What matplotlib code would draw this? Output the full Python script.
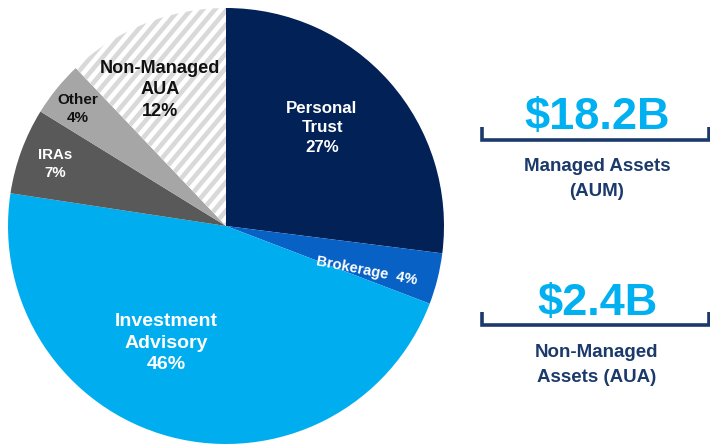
import matplotlib
matplotlib.use("Agg")
import matplotlib.pyplot as plt
import numpy as np

plt.rcParams['font.family'] = ['Liberation Sans', 'DejaVu Sans']

categories = ["Personal Trust", "Brokerage", "Investment Advisory", "IRAs", "Other", "Non-Managed AUA"]
values = [27.0, 3.8, 46.6, 6.4, 4.1, 12.1]
labels = ["Personal\nTrust\n27%", "Brokerage  4%", "Investment\nAdvisory\n46%", "IRAs\n7%", "Other\n4%", "Non-Managed\nAUA\n12%"]
colors = ["#022157", "#0862c6", "#00aeef", "#595959", "#a6a6a6", "#ffffff"]
summary_values = ["$18.2B", "$2.4B"]
summary_labels = ["Managed Assets\n(AUM)", "Non-Managed\nAssets (AUA)"]

W, H = 710, 445
fig = plt.figure(figsize=(W / 100, H / 100), dpi=100)

# pie axes
cx, cy, r = 226, 226, 218
ax = fig.add_axes([(cx - r) / W, (H - cy - r) / H, 2 * r / W, 2 * r / H])
wedges, _ = ax.pie(values, colors=colors, startangle=90, counterclock=False,
                   radius=1, wedgeprops=dict(linewidth=0))
ax.set_xlim(-1, 1)
ax.set_ylim(-1, 1)
ax.set_aspect('equal')
ax.axis('off')

# diagonal stripes in the non-managed wedge
ang = np.deg2rad(50)
step = 12 / r
ys = np.array([-0.1, 1.1])
for c0 in np.arange(-1.6, 0.4, step):
    ln, = ax.plot(c0 + ys / np.tan(ang), ys, color="#d9d9d9", lw=3.3,
                  solid_capstyle='butt')
    ln.set_clip_path(wedges[5])

# overlay axes in pixel coordinates
ov = fig.add_axes([0, 0, 1, 1])
ov.set_xlim(0, W)
ov.set_ylim(H, 0)
ov.axis('off')
ov.patch.set_alpha(0)

label_pos = [(322, 128), (367, 271), (166, 343), (55, 164), (78, 109), (160, 90)]
label_col = ["white", "white", "white", "white", "#111111", "#111111"]
label_size = [12.2, 10.6, 14, 10.8, 11, 13.1]
label_rot = [0, -11, 0, 0, 0, 0]
label_ls = [1.35, 1.0, 1.35, 1.3, 1.3, 1.35]
for lab, (x, y), c, s, rot, ls in zip(labels, label_pos, label_col, label_size, label_rot, label_ls):
    ov.text(x, y, lab, ha='center', va='center', color=c, fontsize=s,
            fontweight='bold', rotation=rot, linespacing=ls, rotation_mode='anchor')

navy = "#1b3a6b"
cyan = "#00b0f0"
big_y = [118, 304]
bracket_y = [140, 325]
sub_y = [179, 365]
for v, lab, by, ly, sy in zip(summary_values, summary_labels, big_y, bracket_y, sub_y):
    ov.text(597, by, v, ha='center', va='center', color=cyan, fontsize=32.5, fontweight='bold')
    ov.plot([482, 482, 709, 709], [ly - 13, ly, ly, ly - 13], color=navy, lw=2.6,
            solid_joinstyle='miter', solid_capstyle='butt')
    ov.text(597, sy, lab, ha='center', va='center', color=navy, fontsize=13.5,
            fontweight='bold', linespacing=1.6)

fig.savefig("out.png", dpi=100)
